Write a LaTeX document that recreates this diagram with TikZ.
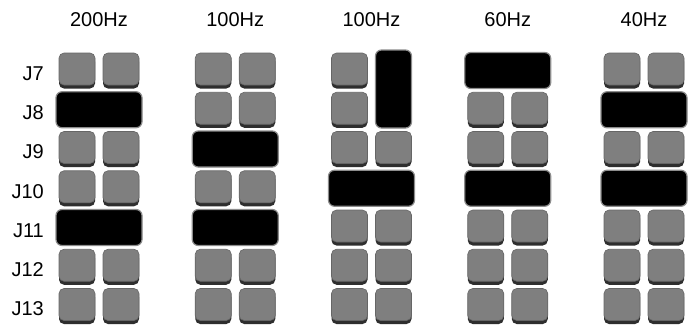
\documentclass[tikz,border=0pt]{standalone}
\usepackage{fontspec}
\setmainfont{Liberation Sans}
\usetikzlibrary{shadows}
\definecolor{tilegray}{HTML}{7F7F7F}
\definecolor{tileshade}{HTML}{2E2E2E}
\begin{document}
\begin{tikzpicture}[x=1pt,y=-1pt,
  tile/.style={rectangle, rounded corners=5pt, fill=tilegray, draw=tilegray!80!black, line width=0.6pt, minimum width=36pt, minimum height=32pt, inner sep=0pt,
    drop shadow={shadow xshift=0pt, shadow yshift=-3.5pt, fill=tileshade, opacity=1}},
  bar/.style={rectangle, rounded corners=6pt, fill=black, draw=black!45, line width=1.2pt, minimum width=86pt, minimum height=36pt, inner sep=0pt},
  vbar/.style={bar, minimum width=36pt, minimum height=78pt},
  lab/.style={font=\fontsize{20}{24}\selectfont, inner sep=0pt}]
\useasboundingbox (0,0) rectangle (694,325);
\fill[white] (0,0) rectangle (694,325);
% headers
\foreach \c/\cx/\h in {1/99/200Hz,2/235.25/100Hz,3/371.5/100Hz,4/507.75/60Hz,5/644/40Hz}
  \node[lab] (h\c) at (\cx,20) {\h};
% row labels
\foreach \lbl [count=\r from 0] in {J7,J8,J9,J10,J11,J12,J13}{
  \pgfmathsetmacro\ry{70.5+39.25*\r}
  \node[lab, anchor=east] (l\lbl) at (44,\ry+3) {\lbl};
}
% blocks
\foreach \c/\cx/\types in {1/99/{0,1,0,0,1,0,0},2/235.25/{0,0,1,0,1,0,0},3/371.5/{2,3,0,1,0,0,0},4/507.75/{1,0,0,1,0,0,0},5/644/{0,1,0,1,0,0,0}}{
  \foreach \t [count=\r from 0] in \types {
    \pgfmathsetmacro\ry{70.5+39.25*\r}
    \ifcase\t\relax
      \node[tile] (t\c-\r-L) at (\cx-22,\ry-1.5) {};
      \node[tile] (t\c-\r-R) at (\cx+22,\ry-1.5) {};
    \or
      \node[bar] (t\c-\r-B) at (\cx,\ry) {};
    \or
      \node[tile] (t\c-\r-L) at (\cx-22,\ry-1.5) {};
      \node[vbar] (t\c-\r-V) at (\cx+22,\ry+18.5) {};
    \or
      \node[tile] (t\c-\r-L) at (\cx-22,\ry-1.5) {};
    \fi
  }
}
\end{tikzpicture}
\end{document}
